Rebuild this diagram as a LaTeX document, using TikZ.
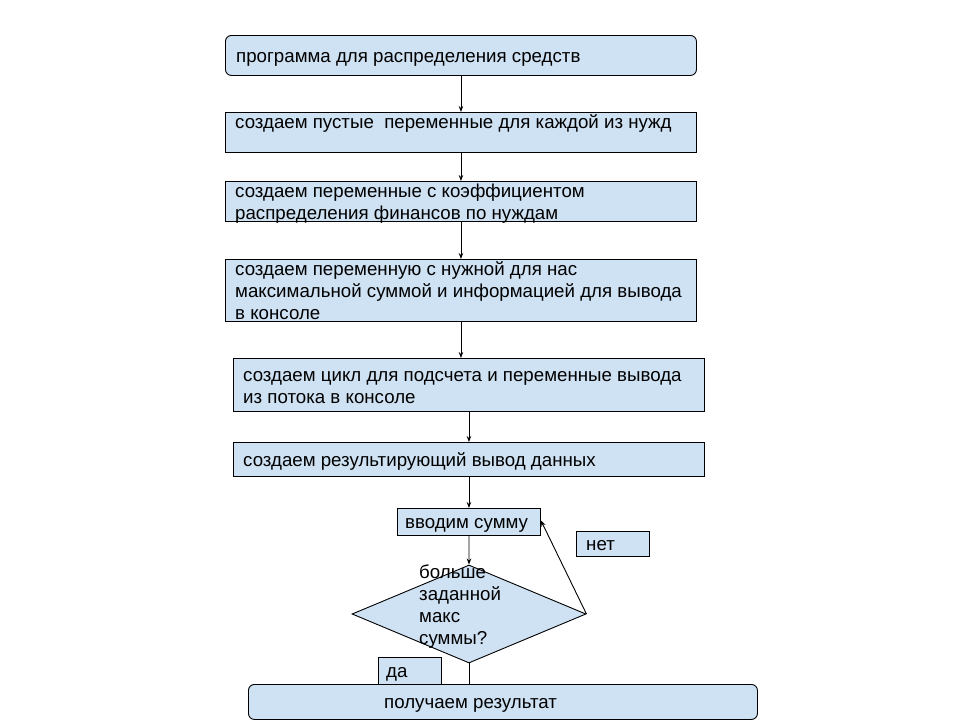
\documentclass[tikz,border=0pt]{standalone}
\usepackage{fontspec}
\setmainfont{Liberation Sans}
\usetikzlibrary{shapes.geometric,arrows.meta}
\definecolor{boxfill}{HTML}{CFE2F3}
\tikzset{
  box/.style={draw=black, fill=boxfill, line width=0.9pt, inner sep=0pt, anchor=north west},
  rbox/.style={box, rounded corners=6pt},
  txt/.style={inner sep=0pt, anchor=north west, align=left, font=\fontsize{18.7}{22}\selectfont},
  flow/.style={line width=0.9pt, -{Stealth[length=6pt,width=4.5pt]}},
  plain/.style={line width=0.9pt}
}
\newcommand{\fl}{\strut}
\begin{document}
\begin{tikzpicture}[x=1pt,y=-1pt]
\useasboundingbox (0,0) rectangle (960,720);
% process boxes
\node[rbox, minimum width=471pt, minimum height=40pt] (b1) at (225,35) {};
\node[box, minimum width=471pt, minimum height=40pt] (b2) at (225,112) {};
\node[box, minimum width=471pt, minimum height=40pt] (b3) at (225,181) {};
\node[box, minimum width=471pt, minimum height=62pt] (b4) at (225,259) {};
\node[box, minimum width=471pt, minimum height=53pt] (b5) at (233,358) {};
\node[box, minimum width=471pt, minimum height=34pt] (b6) at (233,442) {};
\node[box, minimum width=143pt, minimum height=27pt] (b7) at (397,508) {};
\node[box, minimum width=73pt, minimum height=25pt] (no) at (576,531) {};
\node[draw=black, fill=boxfill, line width=0.9pt, shape=diamond, inner sep=0pt,
      minimum width=234pt, minimum height=98pt] (d) at (469,614) {};
\node[box, minimum width=63pt, minimum height=27pt] (yes) at (378,657) {};
\draw[plain] (d.south) -- (d.south |- 0,684) coordinate (dend);
\node[rbox, minimum width=509pt, minimum height=35pt] (b8) at (248,684) {};
% labels
\node[txt] (t1) at (236,47) {\fl программа для распределения средств};
\node[txt] (t2) at (235,113) {\fl создаем пустые~~переменные для каждой из нужд};
\node[txt] (t3) at (235,182) {\fl создаем переменные с коэффициентом\\распределения финансов по нуждам};
\node[txt] (t4) at (235,260) {\fl создаем переменную с нужной для нас\\максимальной суммой и информацией для вывода\\в консоле};
\node[txt] (t5) at (243,366) {\fl создаем цикл для подсчета и переменные вывода\\из потока в консоле};
\node[txt] (t6) at (243,451) {\fl создаем результирующий вывод данных};
\node[txt] (t7) at (405,513) {\fl вводим сумму};
\node[txt] (t8) at (419,563) {\fl больше\\заданной\\макс\\суммы?};
\node[txt] (t9) at (586,535) {\fl нет};
\node[txt] (t10) at (386,662) {\fl да};
\node[txt] (t11) at (384,693) {\fl получаем результат};
% connectors
\draw[flow] (b1.south) -- (b2.north);
\draw[flow] (b2.south) -- (b3.north);
\draw[flow] (b3.south) -- (b4.north);
\draw[flow] (b4.south) -- (b4.south |- b5.north);
\draw[flow] (b5.south) -- (b6.north);
\draw[flow] (b6.south) -- (b7.north);
\draw[flow] (b7.south) -- (d.north);
\draw[flow] (d.east) -- ([yshift=1.5pt]b7.east);
\end{tikzpicture}
\end{document}
